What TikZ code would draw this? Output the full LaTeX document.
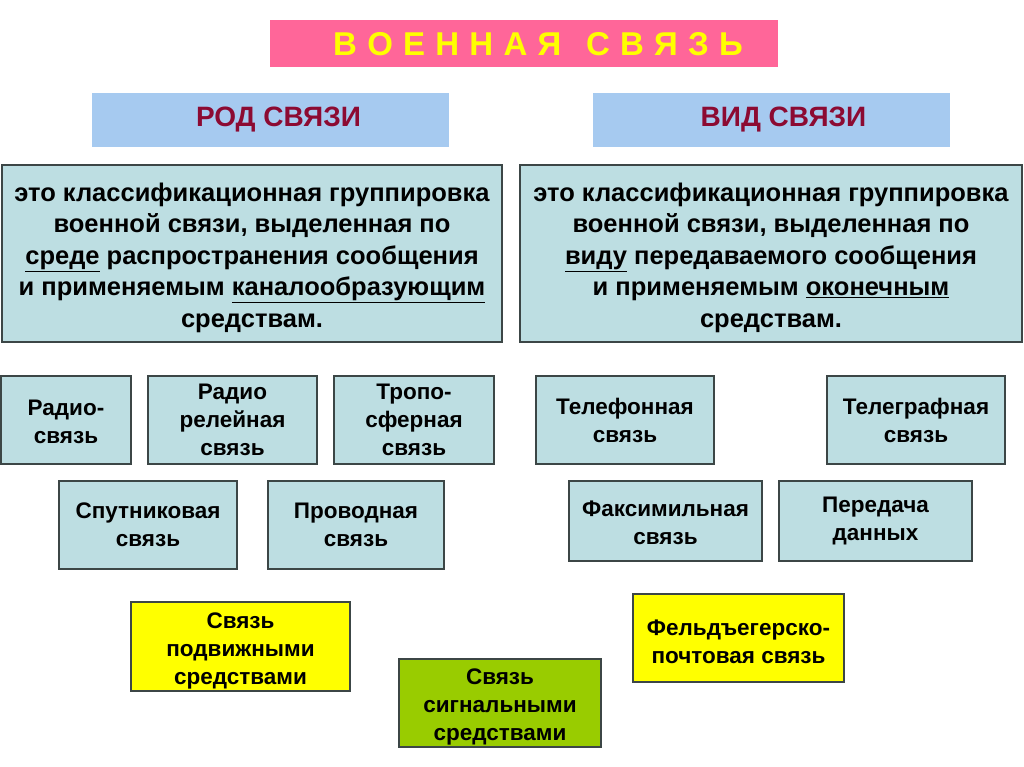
\documentclass[tikz,border=0pt]{standalone}
\usepackage{fontspec}
\setmainfont{Liberation Sans}
\usepackage{tikz}
\definecolor{titlepink}{RGB}{255,102,153}
\definecolor{titleyellow}{RGB}{255,255,0}
\definecolor{headblue}{RGB}{166,202,240}
\definecolor{headred}{RGB}{140,10,50}
\definecolor{boxteal}{RGB}{189,222,226}
\definecolor{boxyellow}{RGB}{255,255,0}
\definecolor{boxgreen}{RGB}{153,204,0}
\definecolor{boxline}{RGB}{60,70,70}
\newcommand{\ls}{\hspace{0.31em}}
\newcommand{\lift}[1]{\rule{0pt}{#1}}
\tikzset{
  title/.style={fill=titlepink, text=titleyellow, font=\bfseries\fontsize{33}{36}\selectfont,
    minimum width=508pt, minimum height=47pt, inner sep=0pt},
  head/.style={fill=headblue, text=headred, font=\bfseries\fontsize{28}{32}\selectfont,
    minimum width=357pt, minimum height=54pt, inner sep=0pt},
  defbox/.style={draw=boxline, line width=1.4pt, fill=boxteal, align=center,
    font=\bfseries\fontsize{25.5}{31.5}\selectfont, minimum height=177pt, inner sep=0pt},
  kind/.style={draw=boxline, line width=1.2pt, fill=boxteal, align=center,
    font=\bfseries\fontsize{22.5}{28}\selectfont, minimum height=88pt, inner sep=0pt},
  extra/.style={kind, fill=boxyellow},
}
\begin{document}
\begin{tikzpicture}[x=1pt,y=-1pt]
  \useasboundingbox[fill=white] (0,0) rectangle (1024,767);

  % title and the two headings
  \node[title] (voen) at (524,44) {\hspace{28pt}\raisebox{-1pt}{В\ls О\ls Е\ls Н\ls Н\ls А\ls Я\hspace{0.75em}С\ls В\ls Я\ls З\ls Ь}};
  \node[head] (rod) at (270.5,120) {\hspace{16pt}\raisebox{-3pt}{РОД СВЯЗИ}};
  \node[head] (vid) at (771.5,120) {\hspace{24pt}\raisebox{-3pt}{ВИД СВЯЗИ}};

  % definitions
  \node[defbox, minimum width=500pt] (rodtext) at (252,253.5)
    {\lift{27pt}это классификационная группировка\\
     военной связи, выделенная по\\
     \underline{среде} распространения сообщения\\
     и применяемым \underline{каналообразующим}\\
     средствам.};
  \node[defbox, minimum width=502pt] (vidtext) at (771,253.5)
    {\lift{27pt}это классификационная группировка\\
     военной связи, выделенная по\\
     \underline{виду} передаваемого сообщения\\
     и применяемым \underline{оконечным}\\
     средствам.};

  % kinds by medium
  \node[kind, minimum width=130pt] (radio) at (66,420) {\lift{20pt}Радио-\\связь};
  \node[kind, minimum width=169pt] (relay) at (232.5,420) {Радио\\релейная\\связь};
  \node[kind, minimum width=160pt] (tropo) at (414,420) {Тропо-\\сферная\\связь};
  \node[kind, minimum width=178pt] (sputnik) at (148,525) {Спутниковая\\связь};
  \node[kind, minimum width=176pt] (wire) at (356,525) {Проводная\\связь};

  % kinds by message
  \node[kind, minimum width=178pt] (phone) at (625,420) {Телефонная\\связь};
  \node[kind, minimum width=178pt] (telegraph) at (916,420) {Телеграфная\\связь};
  \node[kind, minimum width=193pt, minimum height=80pt] (fax) at (665.5,521) {\lift{20pt}Факсимильная\\связь};
  \node[kind, minimum width=193pt, minimum height=80pt] (data) at (875.5,521) {Передача\\данных};

  % other kinds
  \node[extra, minimum width=219pt, minimum height=89pt] (mobile) at (240.5,646.5) {\lift{24pt}Связь\\подвижными\\средствами};
  \node[extra, fill=boxgreen, minimum width=202pt] (signal) at (500,703) {\lift{24pt}Связь\\сигнальными\\средствами};
  \node[extra, minimum width=211pt] (courier) at (738.5,638) {\lift{23pt}Фельдъегерско-\\почтовая связь};
\end{tikzpicture}
\end{document}
